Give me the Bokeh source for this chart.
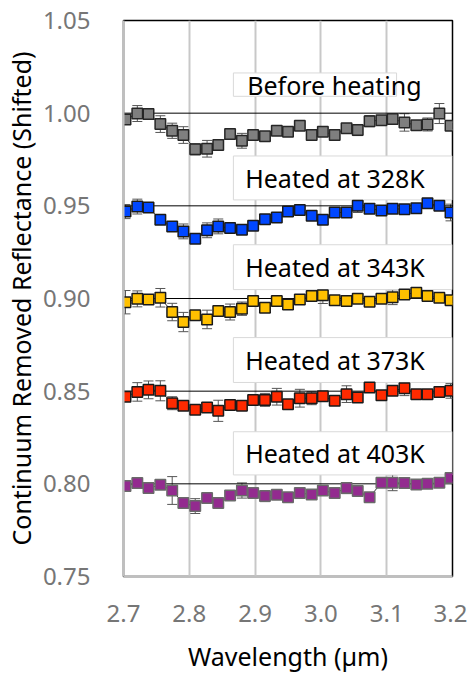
from bokeh.plotting import figure
from bokeh.models import (ColumnDataSource, Whisker, TeeHead, FixedTicker,
                          CustomJSTickFormatter, Range1d)
from bokeh.embed import file_html
from bokeh.resources import INLINE
from bokeh.core.properties import value

# ---------------- data ----------------
wavelength = [2.703, 2.721, 2.738, 2.756, 2.774, 2.791, 2.809, 2.827, 2.844, 2.862,
              2.880, 2.897, 2.915, 2.933, 2.950, 2.968, 2.986, 3.003, 3.021, 3.039,
              3.056, 3.074, 3.092, 3.109, 3.127, 3.145, 3.162, 3.180, 3.197]

before = [0.9966, 0.9998, 0.9995, 0.9941, 0.9905, 0.9882, 0.9805, 0.9808, 0.9828, 0.9887,
          0.9851, 0.9882, 0.9876, 0.9905, 0.9900, 0.9932, 0.9882, 0.9900, 0.9882, 0.9918,
          0.9909, 0.9957, 0.9962, 0.9968, 0.9950, 0.9935, 0.9939, 0.9998, 0.9932]
before_err = [0.002, 0.0043, 0.002, 0.0045, 0.0041, 0.0045, 0.003, 0.0045, 0.002, 0.002,
              0.004, 0.002, 0.002, 0.002, 0.002, 0.002, 0.002, 0.002, 0.002, 0.002,
              0.003, 0.003, 0.002, 0.002, 0.0047, 0.002, 0.0035, 0.0054, 0.002]

h328 = [0.9469, 0.9496, 0.9491, 0.9425, 0.9389, 0.9362, 0.9323, 0.9368, 0.9389, 0.9380,
        0.9371, 0.9392, 0.9428, 0.9437, 0.9469, 0.9478, 0.9446, 0.9425, 0.9464, 0.9464,
        0.9500, 0.9484, 0.9475, 0.9484, 0.9482, 0.9487, 0.9514, 0.9500, 0.9464]
h328_err = [0.0038, 0.004, 0.002, 0.002, 0.002, 0.004, 0.002, 0.004, 0.004, 0.002,
            0.002, 0.002, 0.002, 0.002, 0.002, 0.002, 0.002, 0.002, 0.002, 0.002,
            0.0036, 0.002, 0.002, 0.002, 0.002, 0.002, 0.002, 0.002, 0.0045]

h343 = [0.8980, 0.8998, 0.8995, 0.9004, 0.8927, 0.8873, 0.8909, 0.8887, 0.8932, 0.8927,
        0.8945, 0.8986, 0.8950, 0.8986, 0.8968, 0.8995, 0.9013, 0.9018, 0.8991, 0.8986,
        0.8998, 0.8982, 0.8998, 0.9007, 0.9022, 0.9031, 0.9013, 0.9004, 0.8991]
h343_err = [0.0063, 0.0043, 0.002, 0.005, 0.0047, 0.0052, 0.002, 0.005, 0.002, 0.0043,
            0.0036, 0.002, 0.002, 0.002, 0.002, 0.002, 0.002, 0.0045, 0.002, 0.002,
            0.002, 0.002, 0.002, 0.004, 0.002, 0.002, 0.002, 0.002, 0.002]

h373 = [0.8470, 0.8496, 0.8507, 0.8502, 0.8435, 0.8421, 0.8400, 0.8412, 0.8394, 0.8425,
        0.8421, 0.8453, 0.8453, 0.8470, 0.8430, 0.8462, 0.8462, 0.8472, 0.8448, 0.8484,
        0.8466, 0.8520, 0.8478, 0.8502, 0.8516, 0.8484, 0.8484, 0.8496, 0.8502]
h373_err = [0.002, 0.005, 0.0048, 0.0054, 0.0035, 0.002, 0.002, 0.002, 0.0057, 0.002,
            0.002, 0.002, 0.0035, 0.0045, 0.002, 0.0048, 0.0035, 0.002, 0.002, 0.0045,
            0.002, 0.002, 0.002, 0.002, 0.004, 0.002, 0.002, 0.002, 0.004]

h403 = [0.7988, 0.8004, 0.7977, 0.7995, 0.7964, 0.7896, 0.7880, 0.7923, 0.7896, 0.7937,
        0.7964, 0.7950, 0.7934, 0.7941, 0.7928, 0.7950, 0.7942, 0.7964, 0.7950, 0.7977,
        0.7961, 0.7928, 0.8006, 0.8006, 0.8004, 0.7997, 0.8000, 0.8006, 0.8031]
h403_err = [0.002, 0.002, 0.002, 0.002, 0.0075, 0.002, 0.004, 0.002, 0.002, 0.002,
            0.0041, 0.002, 0.003, 0.002, 0.002, 0.002, 0.002, 0.002, 0.002, 0.003,
            0.002, 0.002, 0.002, 0.0043, 0.002, 0.002, 0.002, 0.002, 0.002]

baselines = [1.00, 0.95, 0.90, 0.85, 0.80]

labels = ["Before heating", "Heated at 328K", "Heated at 343K", "Heated at 373K", "Heated at 403K"]
# label box extents (data coords)
box_left = [2.867, 2.867, 2.867, 2.867, 2.867]
box_right = [3.115, 3.1995, 3.1995, 3.1995, 3.1995]
box_top = [1.0217, 0.9769, 0.9290, 0.8789, 0.8281]
box_bottom = [1.0091, 0.9532, 0.9048, 0.8547, 0.8048]
label_x = [2.888, 2.885, 2.885, 2.885, 2.885]

x_ticks = [2.7, 2.8, 2.9, 3.0, 3.1, 3.2]
y_ticks = [0.75, 0.80, 0.85, 0.90, 0.95, 1.00, 1.05]

series = [
    (before, before_err, "#7f7f7f", "#262626"),
    (h328, h328_err, "#0047ff", "#1a1a1a"),
    (h343, h343_err, "#ffc000", "#1a1a1a"),
    (h373, h373_err, "#ff2a00", "#1a1a1a"),
    (h403, h403_err, "#932b8f", "#6a6a6a"),
]

# ---------------- figure ----------------
p = figure(width=467, height=675, output_backend="svg", toolbar_location=None,
           x_range=Range1d(2.7, 3.2), y_range=Range1d(0.75, 1.05),
           min_border_left=123, min_border_right=15, min_border_top=20,
           min_border_bottom=97)
p.outline_line_color = "black"
p.outline_line_width = 1.5
p.background_fill_color = "white"
p.border_fill_color = "white"

p.ygrid.visible = False
p.xgrid.grid_line_color = "#c8c8c8"
p.xgrid.grid_line_width = 2
p.xgrid.ticker = FixedTicker(ticks=x_ticks)

for ax in (p.xaxis[0], p.yaxis[0]):
    ax.axis_line_color = "#bfbfbf"
    ax.axis_line_width = 2
    ax.major_tick_line_color = None
    ax.minor_tick_line_color = None
    ax.major_tick_out = 0
    ax.major_tick_in = 0
    ax.major_label_text_font = "Noto Sans"
    ax.major_label_text_font_size = "24px"
    ax.major_label_text_color = "#767676"
    ax.axis_label_text_font = "Noto Sans"
    ax.axis_label_text_font_size = "25px"
    ax.axis_label_text_font_style = "normal"
    ax.axis_label_text_color = "black"

p.xaxis.ticker = FixedTicker(ticks=x_ticks)
p.yaxis.ticker = FixedTicker(ticks=y_ticks)
p.xaxis.formatter = CustomJSTickFormatter(code="return tick.toFixed(1);")
p.yaxis.formatter = CustomJSTickFormatter(code="return tick.toFixed(2);")
p.xaxis.major_label_standoff = 28
p.yaxis.major_label_standoff = 33
p.xaxis.axis_label = "Wavelength (\u00b5m)"
p.yaxis.axis_label = "Continuum Removed Reflectance (Shifted)"
p.xaxis.axis_label_standoff = 14
p.yaxis.axis_label_standoff = 2

# label boxes
p.quad(left=box_left, right=box_right, top=box_top, bottom=box_bottom,
       fill_color="white", line_color="#d9d9d9", line_width=1)

# baselines
for b in baselines:
    p.line(x=[2.7, 3.2], y=[b, b], line_color="black", line_width=1)

for vals, errs, fill, edge in series:
    src = ColumnDataSource(dict(x=wavelength, y=vals,
                                lo=[v - e for v, e in zip(vals, errs)],
                                hi=[v + e for v, e in zip(vals, errs)]))
    p.line("x", "y", source=src, line_color="#333333", line_width=1)
    w = Whisker(base="x", lower="lo", upper="hi", source=src,
                line_color="#555555", line_width=1,
                upper_head=TeeHead(size=10, line_color="#555555", line_width=1),
                lower_head=TeeHead(size=10, line_color="#555555", line_width=1))
    p.add_layout(w)
    p.scatter("x", "y", source=src, marker="square", size=10.5,
              fill_color=fill, line_color=edge, line_width=1.5)

label_y = [(t + b) / 2 for t, b in zip(box_top, box_bottom)]
p.text(x=label_x, y=label_y, text=labels, text_font=value("Noto Sans"),
       text_font_size="25px", text_color="black", text_baseline="middle",
       text_align="left")

open("out.html", "w").write(file_html(p, INLINE))
